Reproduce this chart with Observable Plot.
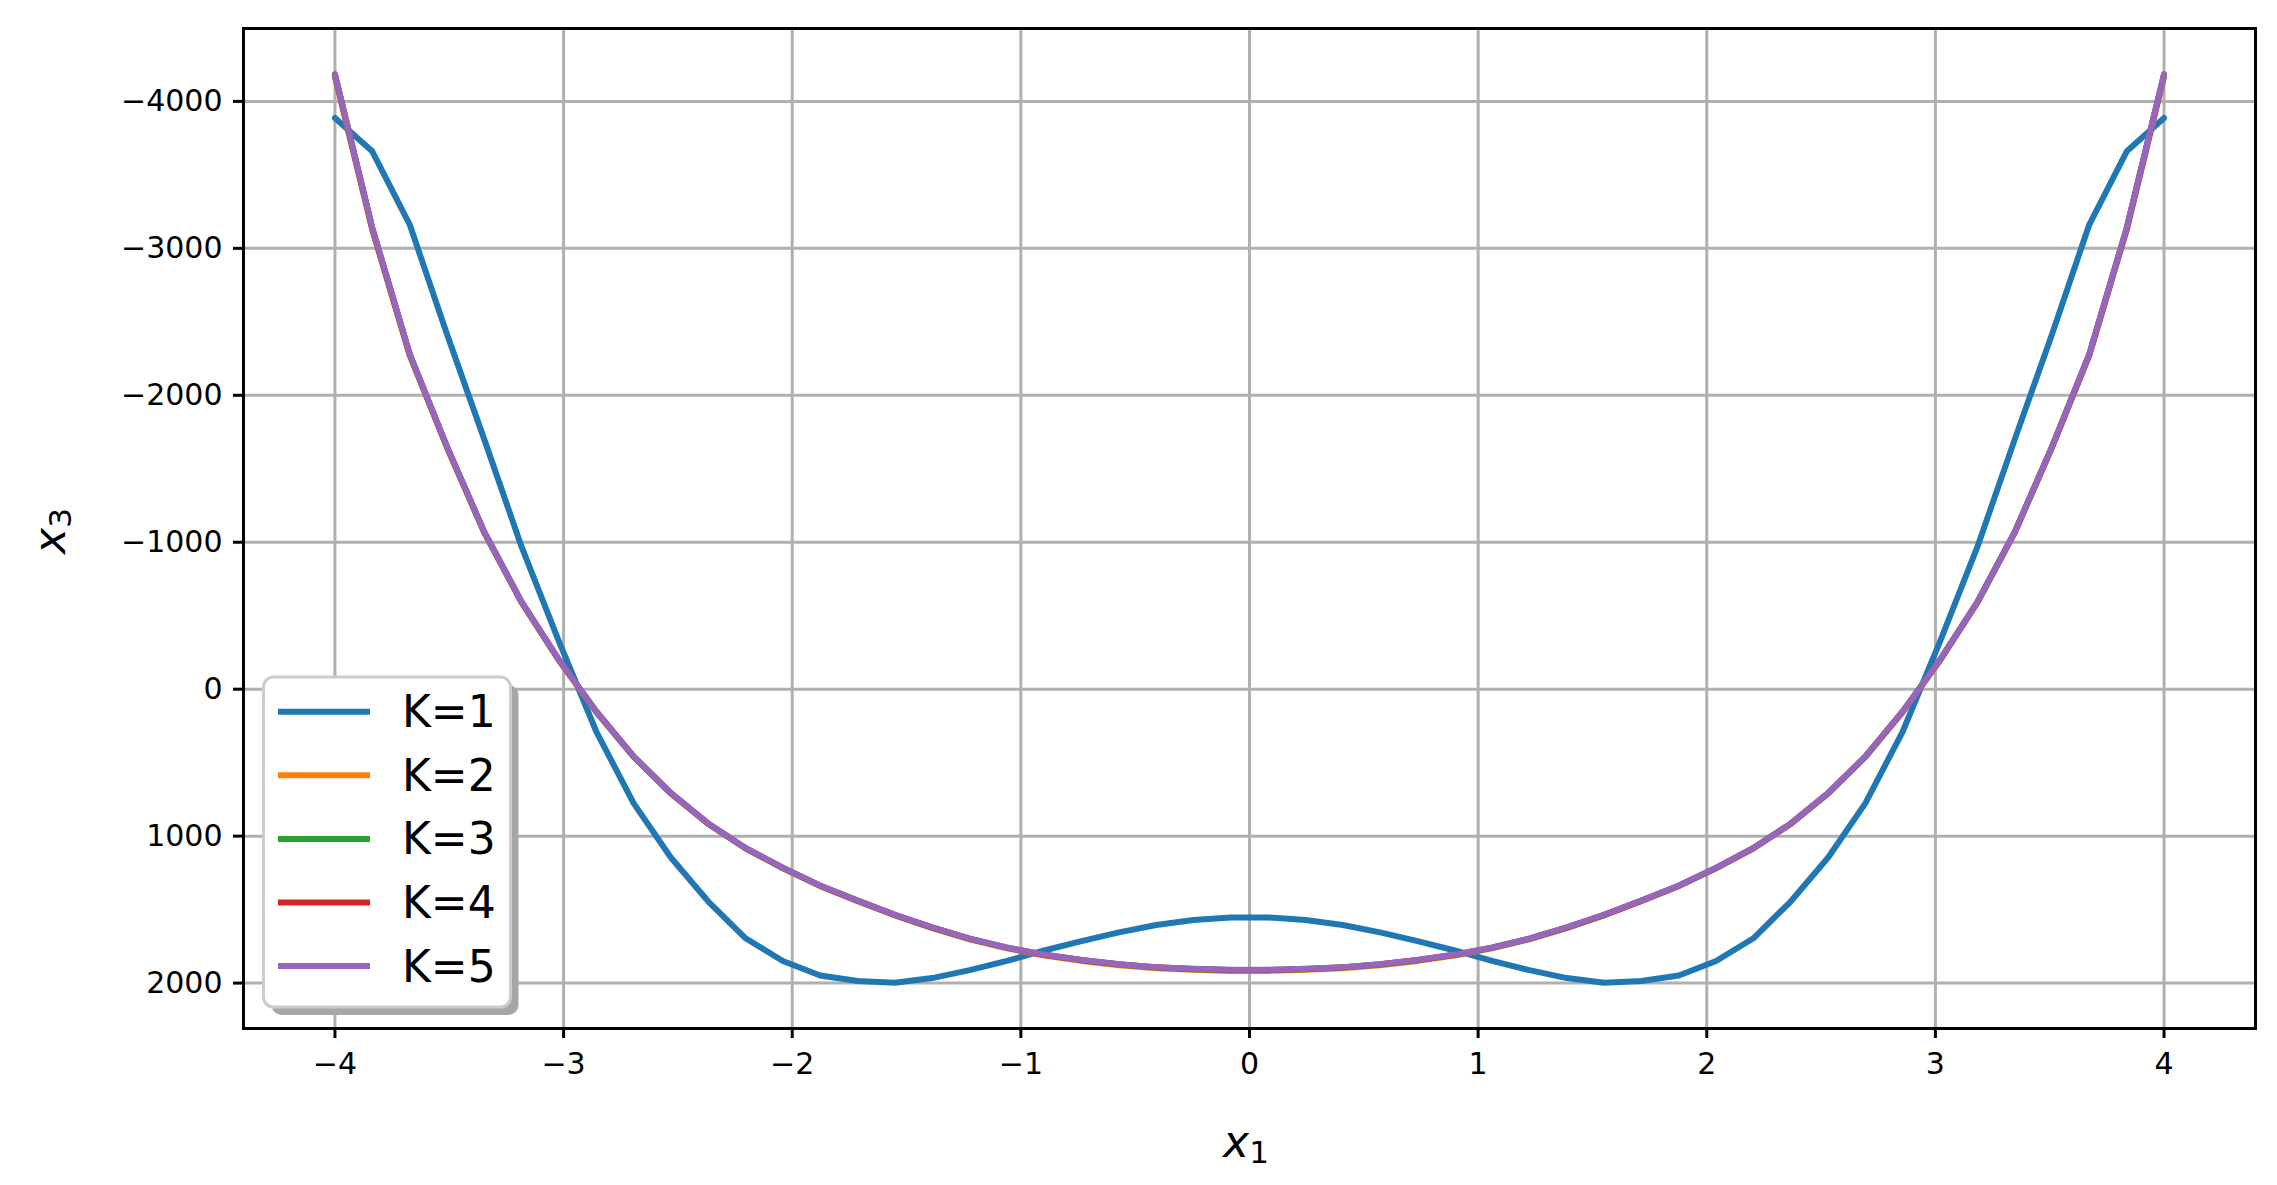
<!DOCTYPE html>
<html><head><meta charset="utf-8">
<script src="https://cdn.jsdelivr.net/npm/d3@7"></script>
<script src="https://cdn.jsdelivr.net/npm/@observablehq/plot@0.6"></script>
<style>html,body{margin:0;padding:0;background:#fff;overflow:hidden;} #chart{width:2277px;height:1185px;}</style>
</head><body><div id="chart"></div>
<script>
const x1 = [-4, -3.837, -3.673, -3.51, -3.347, -3.184, -3.02, -2.857, -2.694, -2.531, -2.367, -2.204, -2.041, -1.878, -1.714, -1.551, -1.388, -1.224, -1.061, -0.898, -0.735, -0.571, -0.408, -0.245, -0.082,
  0.082, 0.245, 0.408, 0.571, 0.735, 0.898, 1.061, 1.224, 1.388, 1.551, 1.714, 1.878, 2.041, 2.204, 2.367, 2.531, 2.694, 2.857, 3.02, 3.184, 3.347, 3.51, 3.673, 3.837, 4];

const k1 = [-3887, -3660, -3162, -2415, -1700, -970, -324, 288, 775, 1145, 1445, 1695, 1850, 1948, 1986, 1998, 1966, 1912, 1849, 1778, 1714, 1655, 1605, 1571, 1553,
  1553, 1571, 1605, 1655, 1714, 1778, 1849, 1912, 1966, 1998, 1986, 1948, 1850, 1695, 1445, 1145, 775, 288, -324, -970, -1700, -2415, -3162, -3660, -3887];
const k2 = [-4165, -3125, -2270, -1645, -1065, -590, -195, 155, 460, 710, 918, 1084, 1219, 1340, 1443, 1540, 1626, 1703, 1764, 1812, 1849, 1878, 1899, 1910, 1917,
  1917, 1910, 1899, 1878, 1849, 1812, 1764, 1703, 1626, 1540, 1443, 1340, 1219, 1084, 918, 710, 460, 155, -195, -590, -1065, -1645, -2270, -3125, -4165];
const k3 = [-4180, -3136, -2277, -1648, -1068, -593, -197, 153, 458, 708, 916, 1082, 1217, 1338, 1440, 1537, 1622, 1699, 1760, 1808, 1844, 1873, 1894, 1905, 1912,
  1912, 1905, 1894, 1873, 1844, 1808, 1760, 1699, 1622, 1537, 1440, 1338, 1217, 1082, 916, 708, 458, 153, -197, -593, -1068, -1648, -2277, -3136, -4180];
const k4 = [-4183, -3138, -2279, -1649, -1069, -594, -198, 152, 457, 707, 915, 1081, 1216, 1337, 1439, 1536, 1621, 1698, 1759, 1807, 1843, 1872, 1893, 1904, 1911,
  1911, 1904, 1893, 1872, 1843, 1807, 1759, 1698, 1621, 1536, 1439, 1337, 1216, 1081, 915, 707, 457, 152, -198, -594, -1069, -1649, -2279, -3138, -4183];
const k5 = [-4185, -3140, -2280, -1650, -1070, -595, -199, 152, 457, 706, 915, 1080, 1215, 1336, 1438, 1535, 1620, 1697, 1758, 1806, 1842, 1871, 1892, 1903, 1910,
  1910, 1903, 1892, 1871, 1842, 1806, 1758, 1697, 1620, 1535, 1438, 1336, 1215, 1080, 915, 706, 457, 152, -199, -595, -1070, -1650, -2280, -3140, -4185];

const seriesNames = ["K=1", "K=2", "K=3", "K=4", "K=5"];
const seriesValues = [k1, k2, k3, k4, k5];
const seriesColors = ["#1f77b4", "#ff7f0e", "#2ca02c", "#d62728", "#9467bd"];

const xTicks = [-4, -3, -2, -1, 0, 1, 2, 3, 4];
const yTicks = [-4000, -3000, -2000, -1000, 0, 1000, 2000];

const fmt = d => (d < 0 ? "\u2212" : "") + Math.abs(d);

const lineMarks = seriesNames.map((name, si) =>
  Plot.line(seriesValues[si].map((v, i) => ({x: x1[i], y: v})), {x: "x", y: "y", stroke: seriesColors[si], strokeWidth: 6, strokeLinejoin: "round"})
);

const plot = Plot.plot({
  width: 2277, height: 1185,
  marginLeft: 243, marginRight: 22, marginTop: 28, marginBottom: 157,
  style: {fontFamily: "DejaVu Sans", background: "#fff", color: "black"},
  x: {domain: [-4.4, 4.4]},
  y: {domain: [2309, -4496]},
  marks: [
    Plot.gridX(xTicks, {stroke: "#b0b0b0", strokeOpacity: 1, strokeWidth: 3}),
    Plot.gridY(yTicks, {stroke: "#b0b0b0", strokeOpacity: 1, strokeWidth: 3}),
    ...lineMarks,
    Plot.frame({stroke: "black", strokeWidth: 3}),
    Plot.axisX(xTicks, {tickSize: 10, tickPadding: 14, fontSize: 30, strokeWidth: 3, tickFormat: fmt, label: null, stroke: "black", fill: "black"}),
    Plot.axisY(yTicks, {tickSize: 10, tickPadding: 11, fontSize: 30, strokeWidth: 3, tickFormat: fmt, label: null, stroke: "black", fill: "black"})
  ]
});

document.getElementById("chart").appendChild(plot);

const svg = d3.select(plot);
// axis labels
const xl = svg.append("text").attr("transform", "translate(1246,1157)").attr("text-anchor", "middle")
  .style("font-family", "DejaVu Sans").attr("fill", "black");
xl.append("tspan").attr("font-style", "italic").attr("font-size", 44).text("x");
xl.append("tspan").attr("font-size", 31).attr("dy", 6).text("1");

const yl = svg.append("text").attr("transform", "translate(65,531) rotate(-90)").attr("text-anchor", "middle")
  .style("font-family", "DejaVu Sans").attr("fill", "black");
yl.append("tspan").attr("font-style", "italic").attr("font-size", 44).text("x");
yl.append("tspan").attr("font-size", 31).attr("dy", 6).text("3");

// legend
const lg = svg.append("g");
lg.append("rect").attr("x", 271.5).attr("y", 685).attr("width", 247).attr("height", 330).attr("rx", 10).attr("fill", "#a6a6a6");
lg.append("rect").attr("x", 263.5).attr("y", 677).attr("width", 247).attr("height", 330).attr("rx", 10)
  .attr("fill", "#fff").attr("stroke", "#cccccc").attr("stroke-width", 3);
seriesNames.forEach((name, i) => {
  const cy = 711.7 + i * 63.6;
  lg.append("line").attr("x1", 278).attr("x2", 370).attr("y1", cy).attr("y2", cy)
    .attr("stroke", seriesColors[i]).attr("stroke-width", 6);
  lg.append("text").attr("x", 402).attr("y", cy + 15.5).attr("text-anchor", "start")
    .style("font-size", "44px").style("font-family", "DejaVu Sans").attr("fill", "black").text(name);
});
</script>
</body></html>
